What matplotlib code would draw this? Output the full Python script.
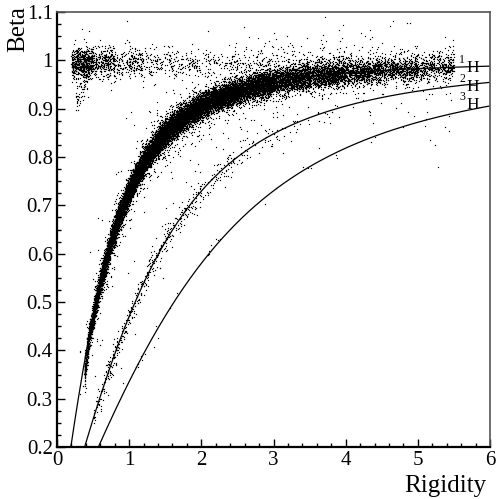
import numpy as np
import matplotlib
matplotlib.use('Agg')
import matplotlib.pyplot as plt

plt.rcParams['font.family'] = ['Liberation Serif', 'DejaVu Serif']

# Reference curves: beta = R / sqrt(R^2 + m^2), charge 1
isotopes = ['1', '2', '3']
masses = [0.938, 1.876, 2.809]
# label positions (pixels of the 498x499 picture): H letter and superscript
label_H_xy = [(473, 68), (473, 87), (473, 105)]
label_sup_xy = [(462, 60), (462, 79), (462, 97)]

# Point-cloud description (rigidity bins, counts, spread)
p_edges = [0.38, 0.45, 0.6, 0.8, 1.0, 1.3, 1.6, 2.0, 2.5, 3.0, 3.5, 4.0, 4.5, 5.0, 5.5]
p_counts = [300, 800, 1400, 1700, 2500, 2300, 2600, 2600, 2100, 1500, 1100, 800, 600, 380]
p_sigma = 0.013

d_edges = [0.5, 0.7, 1.0, 1.5, 2.0, 2.5, 3.0, 3.5, 4.5]
d_counts = [50, 110, 140, 120, 70, 40, 22, 14]
d_sigma = 0.013

t_edges = [0.7, 1.5, 2.5, 4.0, 5.5]
t_counts = [9, 9, 7, 3]
t_sigma = 0.008

e_edges = [0.2, 0.3, 0.5, 0.8, 1.2, 2.0, 3.0, 4.0, 5.5]
e_counts = [190, 400, 300, 220, 210, 170, 140, 140]
e_center = 0.996
e_sigma = 0.014

hook_R = [0.25, 0.45]
hook_beta = [0.91, 0.985]
hook_count = 90

bg_count = 220

rng = np.random.default_rng(11)


def curve(R, m):
    return R / np.sqrt(R ** 2 + m ** 2)


def band(edges, counts, m, sigma, tail=0.06):
    Rs, Bs = [], []
    for lo, hi, n in zip(edges[:-1], edges[1:], counts):
        R = rng.uniform(lo, hi, n)
        s = np.where(rng.random(n) < tail, sigma * 2.5, sigma)
        b = curve(R, m) + rng.normal(0, 1, n) * s
        Rs.append(R)
        Bs.append(b)
    return np.concatenate(Rs), np.concatenate(Bs)


pR, pB = band(p_edges, p_counts, masses[0], p_sigma)
low = pR < 0.45
pB[low] -= (0.45 - pR[low]) * 0.3
dR, dB = band(d_edges, d_counts, masses[1], d_sigma, tail=0.15)
tR, tB = band(t_edges, t_counts, masses[2], t_sigma, tail=0.2)

eR, eB = [], []
for lo, hi, n in zip(e_edges[:-1], e_edges[1:], e_counts):
    R = rng.uniform(lo, hi, n)
    s = np.where(rng.random(n) < 0.1, e_sigma * 2.0, e_sigma)
    eR.append(R)
    eB.append(e_center + rng.normal(0, 1, n) * s)
eR = np.concatenate(eR)
eB = np.concatenate(eB)

hR = rng.uniform(hook_R[0], hook_R[1], hook_count)
hB = np.interp(hR, hook_R, hook_beta) + rng.normal(0, 0.015, hook_count)

bR = rng.uniform(0.3, 5.5, bg_count)
bB = curve(bR, masses[0]) + rng.normal(0, 0.07, bg_count)

allR = np.concatenate([pR, dR, tR, eR, hR, bR])
allB = np.concatenate([pB, dB, tB, eB, hB, bB])

W, H = 498, 499
fig = plt.figure(figsize=(4.98, 4.99), dpi=100)
ax = fig.add_axes([57 / W, 1 - 447 / H, (490 - 57) / W, (447 - 12) / H])

ax.plot(allR, allB, linestyle='none', marker='s', markersize=0.85,
        markeredgewidth=0, color='black')

Rgrid = np.linspace(0.05, 6.0, 600)
for m in masses:
    ax.plot(Rgrid, curve(Rgrid, m), color='black', lw=0.9)

for iso, (hx, hy), (sx, sy) in zip(isotopes, label_H_xy, label_sup_xy):
    fig.text(hx / W, 1 - hy / H, 'H', fontsize=12.5, ha='center', va='center')
    fig.text(sx / W, 1 - sy / H, iso, fontsize=8.5, ha='center', va='center')

ax.set_xlim(0, 6)
ax.set_ylim(0.2, 1.1)
ax.set_xticks(np.arange(0, 7, 1))
ax.set_xticklabels(['0', '1', '2', '3', '4', '5', '6'])
ax.set_xticks(np.arange(0, 6.01, 0.2), minor=True)
ax.set_yticks(np.round(np.arange(0.2, 1.11, 0.1), 1))
ax.set_yticklabels(['0.2', '0.3', '0.4', '0.5', '0.6', '0.7', '0.8', '0.9', '1', '1.1'])
ax.set_yticks(np.arange(0.2, 1.1001, 0.025), minor=True)

ax.tick_params(which='both', direction='in', top=False, right=False,
               labelsize=15, pad=3)
ax.tick_params(which='major', length=6, width=1)
ax.tick_params(which='minor', length=3, width=1)

for side in ['left', 'bottom']:
    ax.spines[side].set_linewidth(1.6)
for side in ['top', 'right']:
    ax.spines[side].set_linewidth(1.2)
    ax.spines[side].set_color('#555555')

fig.text(445 / W, 1 - 486 / H, 'Rigidity', fontsize=18, ha='center', va='center')
fig.text(18 / W, 1 - 29 / H, 'Beta', fontsize=18, ha='center', va='center',
         rotation=90)

fig.savefig('out.png', dpi=100)
